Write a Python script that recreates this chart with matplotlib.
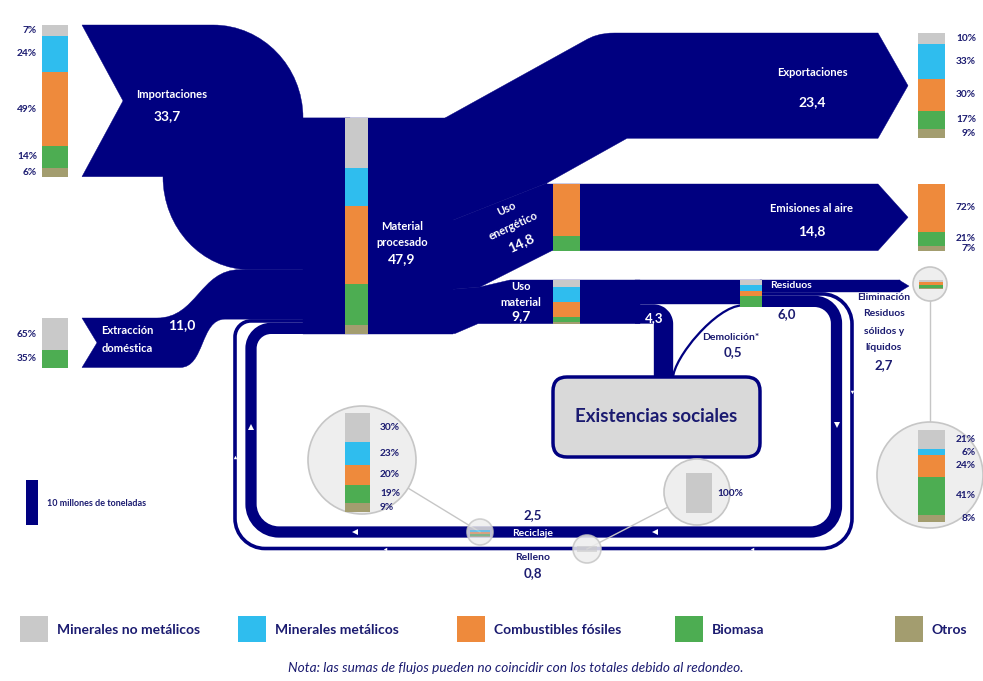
import numpy as np
import matplotlib
matplotlib.use('Agg')
import matplotlib.pyplot as plt
from matplotlib.path import Path
from matplotlib.patches import PathPatch, Rectangle, Circle, FancyBboxPatch

plt.rcParams['font.family'] = ['Lato', 'DejaVu Sans']

# ---------------- data ----------------
categorias = ['Minerales no metálicos', 'Minerales metálicos', 'Combustibles fósiles', 'Biomasa', 'Otros']
colores = ['#c9c9c9', '#2fbdee', '#ee8a3c', '#4dad52', '#a39d6f']

importaciones = 33.7
extraccion = 11.0
material_procesado = 47.9
exportaciones = 23.4
uso_energetico = 14.8
emisiones = 14.8
uso_material = 9.7
adicion_existencias = 4.3
demolicion = 0.5
residuos = 6.0
eliminacion = 2.7
reciclaje = 2.5
relleno = 0.8
escala_leyenda = 10

comp_importaciones = [7, 24, 49, 14, 6]
comp_extraccion = [65, 0, 0, 35, 0]
comp_exportaciones = [10, 33, 30, 17, 9]
comp_emisiones = [0, 0, 72, 21, 7]
comp_reciclaje = [30, 23, 20, 19, 9]
comp_relleno = [100, 0, 0, 0, 0]
comp_eliminacion = [21, 6, 24, 41, 8]
comp_material_procesado = [23, 18, 36, 19, 4]   # estimated (no labels)
comp_uso_energetico = [0, 0, 78, 22, 0]          # estimated
comp_uso_material = [17, 33, 35, 12, 3]          # estimated
comp_residuos = [20, 20, 20, 40, 0]              # estimated
# ---------------------------------------

NAVY = '#000080'
TXT = '#1b1b70'
S = 4.5          # px per Mt
PT = 0.72        # px -> points at 100 dpi
K = 0.5523

fig = plt.figure(figsize=(9.83, 6.81), dpi=100)
ax = fig.add_axes([0, 0, 1, 1])
ax.set_xlim(0, 983)
ax.set_ylim(681, 0)
ax.axis('off')


def fmt(v):
    return f'{v:.1f}'.replace('.', ',')


def build(segs):
    verts, codes = [], []
    for s in segs:
        if s[0] == 'M':
            verts.append(s[1]); codes.append(Path.MOVETO)
        elif s[0] == 'L':
            verts.append(s[1]); codes.append(Path.LINETO)
        elif s[0] == 'C':
            verts += [s[1], s[2], s[3]]; codes += [Path.CURVE4] * 3
    verts.append(verts[0]); codes.append(Path.CLOSEPOLY)
    return Path(verts, codes)


def band(segs, z=2):
    ax.add_patch(PathPatch(build(segs), fc=NAVY, ec=NAVY, lw=0.3, zorder=z))


def rounded_path(pts, radii):
    verts = [pts[0]]; codes = [Path.MOVETO]
    for i in range(1, len(pts) - 1):
        P = np.array(pts[i], float); A = np.array(pts[i - 1], float); B = np.array(pts[i + 1], float)
        r = radii[i - 1]
        u1 = (P - A) / np.linalg.norm(P - A); u2 = (B - P) / np.linalg.norm(B - P)
        s = P - u1 * r; e = P + u2 * r
        verts.append(tuple(s)); codes.append(Path.LINETO)
        verts += [tuple(s + u1 * r * K), tuple(e - u2 * r * K), tuple(e)]
        codes += [Path.CURVE4] * 3
    verts.append(pts[-1]); codes.append(Path.LINETO)
    return Path(verts, codes)


def stroke(path, width_px, z=2, color=NAVY):
    ax.add_patch(PathPatch(path, fill=False, ec=color, lw=width_px * PT,
                           capstyle='butt', joinstyle='round', zorder=z))


def stack_bar(x, y0, w, h, comp, label_x=None, ha='right', gap=10, z=4, fs=7.3, alpha=1.0):
    tot = float(sum(comp)); y = y0; items = []
    for c, col in zip(comp, colores):
        if c <= 0:
            continue
        hh = h * c / tot
        ax.add_patch(Rectangle((x, y), w, hh, fc=col, ec='none', zorder=z, alpha=alpha))
        items.append([y + hh / 2, c]); y += hh
    if label_x is not None and items:
        pos = [it[0] for it in items]
        for i in range(1, len(pos)):
            if pos[i] - pos[i - 1] < gap:
                pos[i] = pos[i - 1] + gap
        lim = y0 + h + 2
        if pos[-1] > lim:
            pos[-1] = lim
            for i in range(len(pos) - 2, -1, -1):
                if pos[i + 1] - pos[i] < gap:
                    pos[i] = pos[i + 1] - gap
        for p, it in zip(pos, items):
            ax.text(label_x, p, f'{it[1]}%', ha=ha, va='center', fontsize=fs,
                    fontweight='bold', color=TXT, zorder=z + 1)


# ---------------- layout derived from values ----------------
y_top = 118
y_imp_b = y_top + importaciones * S
y_ext_b = y_imp_b + extraccion * S
y_rel_b = y_ext_b + relleno * S
y_rec_b = y_rel_b + reciclaje * S
y_mp_b = y_top + material_procesado * S
y_exp_b = y_top + exportaciones * S
y_en_b = y_exp_b + uso_energetico * S
y_mu_b = y_en_b + uso_material * S

imp_y0 = 25; imp_y1 = imp_y0 + importaciones * S
ext_y0 = 318; ext_y1 = ext_y0 + extraccion * S
exp_y0 = 33; exp_y1 = exp_y0 + exportaciones * S
emi_y0 = 184; emi_y1 = emi_y0 + emisiones * S
mu_y0 = 280; mu_y1 = mu_y0 + uso_material * S
y_res_mid = mu_y0 + (uso_material - adicion_existencias) * S
y_elim_b = mu_y0 + eliminacion * S
y_rel_r = y_elim_b + relleno * S
y_rec_r = y_rel_r + reciclaje * S

# ---------------- flows ----------------
# Importaciones
ry = y_top - imp_y0
band([('M', (82, imp_y0)), ('L', (213, imp_y0)),
      ('C', (213 + 90 * K, imp_y0), (303, y_top - ry * K), (303, y_top)),
      ('L', (350, y_top)), ('L', (350, y_imp_b)), ('L', (250, y_imp_b)),
      ('C', (250 - 87 * K, y_imp_b), (163, imp_y1 + (y_imp_b - imp_y1) * K), (163, imp_y1)),
      ('L', (82, imp_y1)), ('L', (123, (imp_y0 + imp_y1) / 2))])
# Extraccion domestica
band([('M', (82, ext_y0)), ('L', (157, ext_y0)),
      ('C', (197, ext_y0), (200, y_imp_b), (240, y_imp_b)),
      ('L', (350, y_imp_b)), ('L', (350, y_ext_b)), ('L', (225, y_ext_b)),
      ('C', (200, y_ext_b), (205, ext_y1), (180, ext_y1)),
      ('L', (82, ext_y1)), ('L', (97, (ext_y0 + ext_y1) / 2))])
# Material procesado trunk
ax.add_patch(Rectangle((303, y_top), 150, y_mp_b - y_top, fc=NAVY, ec=NAVY, lw=0.3, zorder=2))
# Exportaciones
band([('M', (445, y_top)), ('L', (585, exp_y0 + 7.5)),
      ('C', (592, exp_y0 + 3.5), (600, exp_y0), (615, exp_y0)),
      ('L', (878, exp_y0)), ('L', (908, (exp_y0 + exp_y1) / 2)), ('L', (878, exp_y1)),
      ('L', (627, exp_y1)), ('L', (547, emi_y0 - 1)), ('L', (445, y_exp_b))])
# Uso energetico -> Emisiones
band([('M', (445, y_exp_b)), ('L', (547, emi_y0 - 1)), ('L', (547, emi_y0)),
      ('L', (878, emi_y0)), ('L', (908, (emi_y0 + emi_y1) / 2)), ('L', (878, emi_y1)),
      ('L', (552, emi_y1)), ('L', (480, mu_y0 + 7)), ('L', (445, y_en_b))])
# Uso material
band([('M', (445, y_en_b)), ('L', (480, mu_y0 + 7)), ('L', (510, mu_y0)),
      ('L', (640, mu_y0)), ('L', (640, mu_y1)), ('L', (478, mu_y1)),
      ('L', (455, y_mu_b)), ('L', (445, y_mu_b))])
# residuos strand
ax.add_patch(Rectangle((635, mu_y0), 762 - 635, y_res_mid - mu_y0, fc=NAVY, ec=NAVY, lw=0.3, zorder=2))
# 4,3 to stock
yc = (y_res_mid + mu_y1) / 2
stroke(rounded_path([(635, yc), (663.5, yc), (663.5, 379)], [10]), adicion_existencias * S)
# demolicion
dem = Path([(673, 378), (673.5, 358), (716, y_res_mid + 2), (742, y_res_mid + 1.1)],
           [Path.MOVETO, Path.CURVE4, Path.CURVE4, Path.CURVE4])
stroke(dem, demolicion * S)
# eliminacion
ax.add_patch(Rectangle((760, mu_y0), 140, y_elim_b - mu_y0, fc=NAVY, ec=NAVY, lw=0.3, zorder=2))
band([('M', (899, mu_y0)), ('L', (909, (mu_y0 + y_elim_b) / 2)), ('L', (899, y_elim_b))])
# loops
yr = (y_rel_r + y_rec_r) / 2
yl = (y_rel_b + y_rec_b) / 2
stroke(rounded_path([(755, yr), (836.5, yr), (836.5, 532), (251, 532), (251, yl), (352, yl)],
                    [22, 26, 28, 20]), reciclaje * S)
yr2 = (y_elim_b + y_rel_r) / 2
yl2 = (y_ext_b + y_rel_b) / 2
stroke(rounded_path([(755, yr2), (852, yr2), (852, 548.5), (235, 548.5), (235, yl2), (352, yl2)],
                    [30, 30, 30, 16]), relleno * S)

# arrow markers on loops
for (mx, my, mk, ms) in [(251, 427, '^', 4), (355, 532, '<', 4), (655, 532, '<', 4), (836.5, 425, 'v', 4),
                         (235, 457, '^', 2.5), (385, 548.5, '<', 2.5), (752, 548.5, '<', 2.5), (852, 392, 'v', 2.5)]:
    ax.plot([mx], [my], marker=mk, color='white', ms=ms, mew=0, zorder=3)

# Existencias sociales box
ax.add_patch(FancyBboxPatch((553, 377), 207, 80, boxstyle='round,pad=0,rounding_size=14',
                            fc='#d9d9d9', ec=NAVY, lw=2.5, zorder=3))
ax.text(656, 417, 'Existencias sociales', ha='center', va='center', fontsize=13.5,
        fontweight='bold', color=TXT, zorder=5)

# ---------------- node composition bars ----------------
stack_bar(345, y_top, 23, y_mp_b - y_top, comp_material_procesado)
stack_bar(553, emi_y0, 27, uso_energetico * S, comp_uso_energetico)
stack_bar(553, mu_y0, 27, uso_material * S, comp_uso_material)
stack_bar(740, mu_y0, 22, residuos * S, comp_residuos)
stack_bar(42, imp_y0, 26, importaciones * S, comp_importaciones, label_x=37, ha='right')
stack_bar(42, ext_y0, 26, extraccion * S, comp_extraccion, label_x=37, ha='right')
stack_bar(918, exp_y0, 27, exportaciones * S, comp_exportaciones, label_x=976, ha='right')
stack_bar(918, emi_y0, 27, emisiones * S, comp_emisiones, label_x=976, ha='right')

# ---------------- magnifier circles ----------------
GRAYC = '#c6c6c6'
ax.plot([362, 480], [460, 532], color=GRAYC, lw=1, zorder=3)
ax.plot([697, 587], [492, 549], color=GRAYC, lw=1, zorder=3)
ax.plot([930, 930], [284, 475], color=GRAYC, lw=1, zorder=3)

ax.add_patch(Circle((362, 460), 54, fc='#eeeeee', ec=GRAYC, lw=1.2, zorder=4))
stack_bar(345, 413, 25, 99, comp_reciclaje, label_x=380, ha='left', z=5)
ax.add_patch(Circle((697, 492), 33, fc='#eeeeee', ec=GRAYC, lw=1.2, zorder=4))
stack_bar(686, 473, 26, 40, comp_relleno, label_x=717, ha='left', z=5)
ax.add_patch(Circle((930, 475), 53, fc='#eeeeee', ec=GRAYC, lw=1.2, zorder=4))
stack_bar(918, 430, 27, 92, comp_eliminacion, label_x=976, ha='right', z=5)

ax.add_patch(Circle((480, 532), 13, fc='#eeeeee', ec=GRAYC, lw=1.2, alpha=0.8, zorder=4))
stack_bar(470, 527, 20, 10, comp_reciclaje, z=5, alpha=0.55)
ax.add_patch(Circle((587, 549), 14, fc='#eeeeee', ec=GRAYC, lw=1.2, alpha=0.85, zorder=4))
stack_bar(577, 546, 20, 6, comp_relleno, z=5, alpha=0.6)
ax.add_patch(Circle((930, 284), 17, fc='#eeeeee', ec=GRAYC, lw=1.2, zorder=4))
stack_bar(919, 280, 24, 9, comp_eliminacion, z=5)

# ---------------- labels ----------------
def wt(x, y, s, fs=8, color='white', **kw):
    ax.text(x, y, s, ha='center', va='center', fontsize=fs, fontweight='bold', color=color, zorder=6, **kw)

wt(172, 95, 'Importaciones')
wt(167, 116, fmt(importaciones), fs=10)
wt(127, 331, 'Extracción')
wt(127, 348, 'doméstica')
wt(182, 325, fmt(extraccion), fs=10)
wt(402, 226, 'Material')
wt(402, 242, 'procesado')
wt(402, 259, fmt(material_procesado), fs=10)
wt(507, 209, 'Uso', rotation=25)
wt(513, 226, 'energético', rotation=25)
wt(521, 243, fmt(uso_energetico), fs=10, rotation=25)
wt(812, 72, 'Exportaciones')
wt(812, 102, fmt(exportaciones), fs=10)
wt(812, 208, 'Emisiones al aire')
wt(812, 231, fmt(emisiones), fs=10)
wt(521, 287, 'Uso')
wt(521, 302, 'material')
wt(521, 316, fmt(uso_material), fs=10)
wt(654, 318, fmt(adicion_existencias), fs=9.5)
wt(791, 286, 'Residuos', fs=7.5)
wt(787, 314, fmt(residuos), fs=9.5, color=TXT)
wt(731, 337, 'Demolición*', fs=7.5, color=TXT)
wt(733, 352, fmt(demolicion), fs=9.5, color=TXT)
for yy, s in zip([297, 314, 331, 347], ['Eliminación', 'Residuos', 'sólidos y', 'líquidos']):
    wt(884, yy, s, fs=7.5, color=TXT)
wt(884, 365, fmt(eliminacion), fs=9.5, color=TXT)
wt(533, 515, fmt(reciclaje), fs=9.5, color=TXT)
wt(533, 533, 'Reciclaje', fs=7.5)
wt(533, 558, 'Relleno', fs=7.5, color=TXT)
wt(533, 573, fmt(relleno), fs=9.5, color=TXT)

# scale legend
ax.add_patch(Rectangle((26, 480), 12, escala_leyenda * S, fc=NAVY, ec='none', zorder=2))
ax.text(47, 503, f'{escala_leyenda} millones de toneladas', ha='left', va='center', fontsize=6.5,
        fontweight='bold', color=TXT)

# category legend
leg_x = [20, 238, 457, 675, 895]
for lx, col, name in zip(leg_x, colores, categorias):
    ax.add_patch(Rectangle((lx, 616), 28, 26, fc=col, ec='none'))
    ax.text(lx + 37, 630, name, ha='left', va='center', fontsize=10, fontweight='bold', color=TXT)

ax.text(516, 668, 'Nota: las sumas de flujos pueden no coincidir con los totales debido al redondeo.',
        ha='center', va='center', fontsize=9.8, style='italic', color=TXT)

fig.savefig('out.png', dpi=100)
